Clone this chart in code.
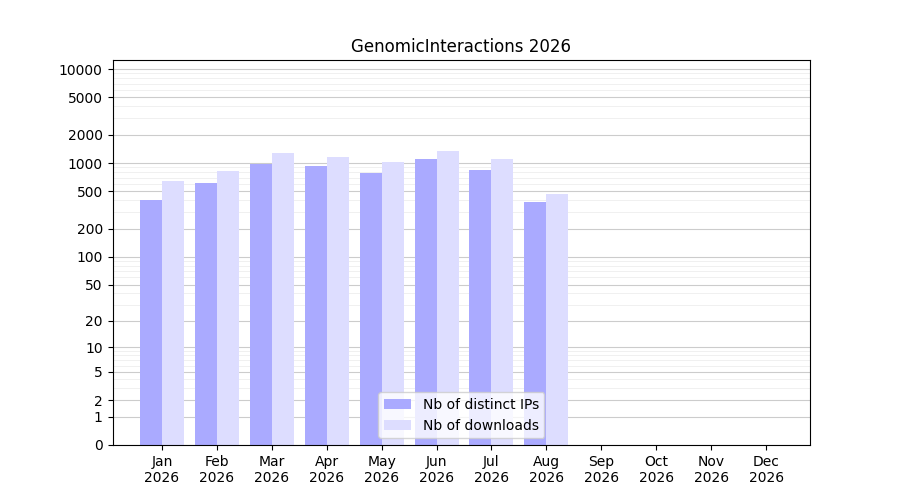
import numpy as np, pandas as pd, matplotlib
matplotlib.use("Agg")
import matplotlib.pyplot as plt, seaborn as sns

months = ["Jan","Feb","Mar","Apr","May","Jun","Jul","Aug","Sep","Oct","Nov","Dec"]
labels = [m + "\n2026" for m in months]
ips = [400, 620, 980, 930, 790, 1100, 850, 380, np.nan, np.nan, np.nan, np.nan]
downloads = [650, 830, 1280, 1150, 1020, 1350, 1100, 470, np.nan, np.nan, np.nan, np.nan]
yticks = [0,1,2,5,10,20,50,100,200,500,1000,2000,5000,10000]

df = pd.DataFrame({"month": labels*2, "value": ips+downloads,
                   "series": ["Nb of distinct IPs"]*12 + ["Nb of downloads"]*12})
fig, ax = plt.subplots(figsize=(9,5), dpi=100)
ax.set_yscale("function", functions=(lambda x: np.log10(1+np.clip(x,0,None)), lambda y: 10**y-1))
sns.barplot(data=df, x="month", y="value", hue="series", order=labels,
            palette=["#aaaaff","#ddddff"], saturation=1, width=0.8, ax=ax, zorder=2)
ax.set_ylim(0, 12500)
ax.set_xlim(-0.9, 11.8)
ax.set_yticks(yticks); ax.set_yticklabels([str(t) for t in yticks])
minor = [m*10**e for e in range(0,5) for m in range(2,10)]
ax.set_yticks([v for v in minor if v < 12500], minor=True)
ax.tick_params(axis="y", which="minor", length=0)
ax.grid(True, which="major", axis="y", color="#cccccc", lw=0.8, zorder=0)
for v in [1,10,100,1000,10000]:
    pass
ax.grid(True, which="minor", axis="y", color="#eeeeee", lw=0.6, zorder=0)
ax.set_axisbelow(True)
ax.set_xlabel(""); ax.set_ylabel("")
ax.set_title("GenomicInteractions 2026")
ax.legend(loc="lower center", framealpha=0.8)
fig.savefig("out.png")
